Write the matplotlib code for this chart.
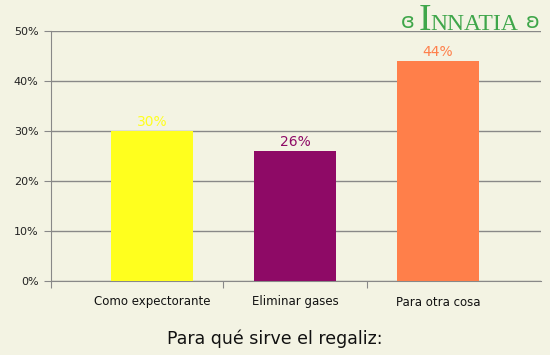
import matplotlib
matplotlib.use("Agg")
import matplotlib.pyplot as plt
import numpy as np

# datos
categorias = ['Como expectorante', 'Eliminar gases', 'Para otra cosa']
valores = [30, 26, 44]
colores = ['#FFFF1E', '#8E0A66', '#FF7F4A']
etiquetas_y = ['0%', '10%', '20%', '30%', '40%', '50%']

fondo = '#F3F3E3'
gris = '#888888'

fig = plt.figure(figsize=(5.5, 3.55), dpi=100, facecolor=fondo)
ax = fig.add_axes([51 / 550, 74 / 355, 490 / 550, 250 / 355])
ax.set_facecolor(fondo)

x = np.arange(len(categorias))
ax.bar(x, valores, width=0.57, color=colores, zorder=3)

for xi, v, c in zip(x, valores, colores):
    ax.text(xi, v + 0.4, f'{v}%', ha='center', va='bottom', color=c, fontsize=10, zorder=4)

xmin, xmax = -0.706, 2.72
ax.set_xlim(xmin, xmax)
ax.set_ylim(0, 50)

ax.set_yticks(np.arange(0, 51, 10))
ax.set_yticklabels(etiquetas_y, fontsize=8, color='#222222')
ax.yaxis.grid(True, color=gris, linewidth=1, zorder=0)
ax.tick_params(axis='y', length=5, color=gris, pad=4)

# ticks de separacion en x, etiquetas en el centro
ax.set_xticks([xmin, 0.5, 1.5])
ax.set_xticklabels([])
ax.tick_params(axis='x', length=5, color=gris, direction='out')
for xi, cat in zip(x, categorias):
    ax.text(xi, -2.9, cat, ha='center', va='top', fontsize=8.5, color='#111111')

for s in ['top', 'right']:
    ax.spines[s].set_visible(False)
for s in ['left', 'bottom']:
    ax.spines[s].set_color(gris)

fig.text(0.5, 16 / 355, 'Para qué sirve el regaliz:', ha='center', va='center',
         fontsize=12.5, color='#111111')

# logo
verde = '#3FA64A'
fig.text(425 / 550, 325 / 355, 'I', ha='center', va='baseline', fontsize=27,
         color=verde, family='Liberation Serif')
fig.text(430 / 550, 325 / 355, 'NNATIA', ha='left', va='baseline', fontsize=17,
         color=verde, family='Liberation Serif')
fig.text(408 / 550, 333 / 355, 'ɞ', ha='center', va='center', fontsize=15, color=verde)
fig.text(533 / 550, 333 / 355, 'ʚ', ha='center', va='center', fontsize=15, color=verde)

fig.savefig('out.png', dpi=100, facecolor=fondo)
